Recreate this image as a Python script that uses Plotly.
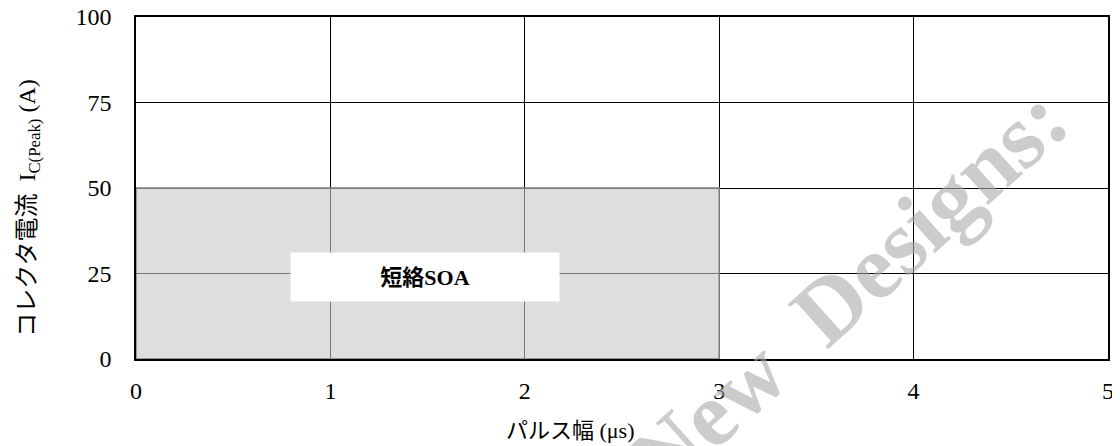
import plotly.graph_objects as go

# chart values
x_ticks = [0, 1, 2, 3, 4, 5]
y_ticks = [0, 25, 50, 75, 100]
soa_pulse_width = [0, 3]      # us
soa_current = [0, 50]         # A
soa_label = "<b>短絡SOA</b>"
watermark = "New&nbsp; Designs:"

SERIF = "Liberation Serif, Times New Roman, Noto Sans CJK JP, serif"

x0, x1 = soa_pulse_width
y0, y1 = soa_current

fig = go.Figure()

# short-circuit SOA region
fig.add_trace(
    go.Scatter(
        x=[x0, x0, x1, x1, x0],
        y=[y0, y1, y1, y0, y0],
        mode="lines",
        fill="toself",
        fillcolor="rgba(200,200,200,0.6)",
        line=dict(color="#7f7f7f", width=1.5),
        hoverinfo="skip",
        showlegend=False,
    )
)

# white label box
fig.add_annotation(
    x=1.487, y=24, xref="x", yref="y",
    text=soa_label, showarrow=False,
    font=dict(family=SERIF, size=22, color="black"),
    bgcolor="white", width=258, height=38, borderpad=5,
    xanchor="center", yanchor="middle",
)

# watermark
fig.add_annotation(
    x=0.732, y=0.202, xref="paper", yref="paper",
    text=watermark, showarrow=False, textangle=-42,
    xanchor="center", yanchor="middle",
    font=dict(family=SERIF, size=92, color="rgba(170,170,170,0.6)", weight="bold"),
)

# axis titles
fig.add_annotation(
    x=0.447, y=-0.208, xref="paper", yref="paper",
    text="パルス幅 (μs)", showarrow=False,
    xanchor="center", yanchor="middle",
    font=dict(family=SERIF, size=22, color="black"),
)
fig.add_annotation(
    x=-0.111, y=0.44, xref="paper", yref="paper",
    text="コレクタ電流  I<sub>C(Peak)</sub> (A)", showarrow=False, textangle=-90,
    xanchor="center", yanchor="middle",
    font=dict(family=SERIF, size=24, color="black"),
)

fig.update_xaxes(
    range=[0, 5], tickvals=x_ticks, showgrid=True, gridcolor="black", gridwidth=1,
    showline=True, linecolor="black", linewidth=1.5, mirror=True,
    ticks="", ticklabelstandoff=9, zeroline=False, automargin=False,
    ticklabeloverflow="allow",
    tickfont=dict(family=SERIF, size=24, color="black"),
)
fig.update_yaxes(
    range=[0, 100], tickvals=y_ticks, showgrid=True, gridcolor="black", gridwidth=1,
    showline=True, linecolor="black", linewidth=1.5, mirror=True,
    ticks="", ticklabelstandoff=18, zeroline=False, automargin=False,
    ticklabeloverflow="allow",
    tickfont=dict(family=SERIF, size=24, color="black"),
)

fig.update_layout(
    width=1120, height=446,
    margin=dict(l=128, r=20, t=9, b=95),
    paper_bgcolor="white", plot_bgcolor="white",
    showlegend=False,
)

fig.write_html("out.html")
